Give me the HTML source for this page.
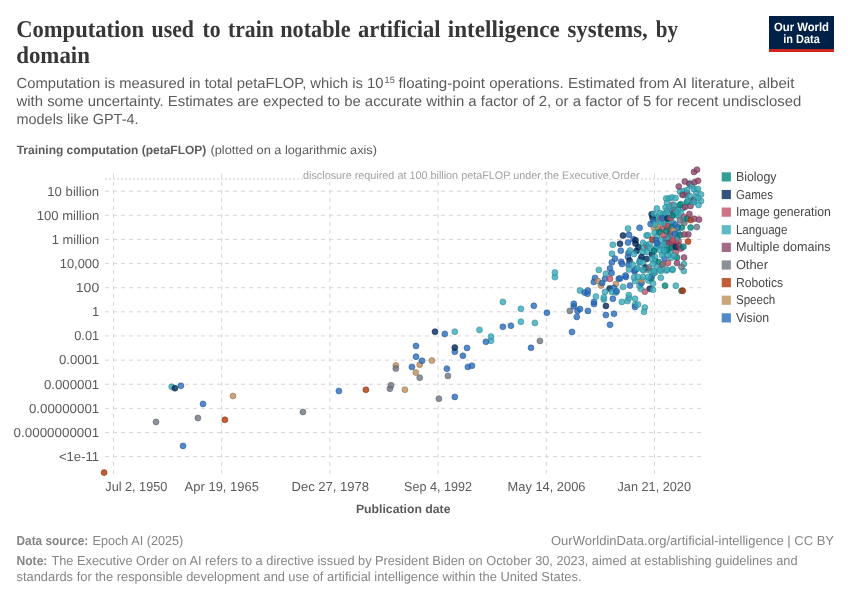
<!DOCTYPE html>
<html lang="en"><head><meta charset="utf-8"><title>Computation used to train notable artificial intelligence systems, by domain</title>
<style>html,body{margin:0;padding:0;background:#fff;}body{width:850px;height:600px;overflow:hidden;font-family:"Liberation Sans",sans-serif;}svg{display:block;will-change:transform;}text{font-family:"Liberation Sans",sans-serif;text-rendering:geometricPrecision;}.ttl{font-family:"Liberation Serif",serif;font-weight:bold;fill:#373737;}</style>
</head><body>
<svg width="850" height="600" viewBox="0 0 850 600">
<text x="16.2" y="37" font-size="24" fill="#373737" textLength="128.0" lengthAdjust="spacingAndGlyphs" class="ttl" >Computation</text>
<text x="151.5" y="37" font-size="24" fill="#373737" textLength="42.5" lengthAdjust="spacingAndGlyphs" class="ttl" >used</text>
<text x="202.6" y="37" font-size="24" fill="#373737" textLength="18.1" lengthAdjust="spacingAndGlyphs" class="ttl" >to</text>
<text x="228.0" y="37" font-size="24" fill="#373737" textLength="45.7" lengthAdjust="spacingAndGlyphs" class="ttl" >train</text>
<text x="280.2" y="37" font-size="24" fill="#373737" textLength="70.5" lengthAdjust="spacingAndGlyphs" class="ttl" >notable</text>
<text x="358.0" y="37" font-size="24" fill="#373737" textLength="82.6" lengthAdjust="spacingAndGlyphs" class="ttl" >artificial</text>
<text x="447.8" y="37" font-size="24" fill="#373737" textLength="111.9" lengthAdjust="spacingAndGlyphs" class="ttl" >intelligence</text>
<text x="567.4" y="37" font-size="24" fill="#373737" textLength="80.3" lengthAdjust="spacingAndGlyphs" class="ttl" >systems,</text>
<text x="655.7" y="37" font-size="24" fill="#373737" textLength="22.3" lengthAdjust="spacingAndGlyphs" class="ttl" >by</text>
<text x="16.2" y="62.5" font-size="24" fill="#373737" textLength="73.7" lengthAdjust="spacingAndGlyphs" class="ttl" >domain</text>
<text x="16.5" y="87.8" font-size="14.6" fill="#5b5b5b" textLength="367" lengthAdjust="spacingAndGlyphs" >Computation is measured in total petaFLOP, which is 10</text>
<text x="384.6" y="82.6" font-size="9" fill="#5b5b5b" textLength="10.2" lengthAdjust="spacingAndGlyphs" >15</text>
<text x="398.6" y="87.8" font-size="14.6" fill="#5b5b5b" textLength="395.8" lengthAdjust="spacingAndGlyphs" >floating-point operations. Estimated from AI literature, albeit</text>
<text x="16.5" y="105.5" font-size="14.6" fill="#5b5b5b" textLength="784.8" lengthAdjust="spacingAndGlyphs" >with some uncertainty. Estimates are expected to be accurate within a factor of 2, or a factor of 5 for recent undisclosed</text>
<text x="16.5" y="123.5" font-size="14.6" fill="#5b5b5b" textLength="122" lengthAdjust="spacingAndGlyphs" >models like GPT-4.</text>
<rect x="769" y="16" width="65" height="36" fill="#002147"/><rect x="769" y="49" width="65" height="3" fill="#ce261e"/>
<text x="801.5" y="30.8" font-size="12" fill="#fff" textLength="55" lengthAdjust="spacingAndGlyphs" font-weight="bold" text-anchor="middle" >Our World</text>
<text x="801.5" y="42.8" font-size="12" fill="#fff" textLength="36.5" lengthAdjust="spacingAndGlyphs" font-weight="bold" text-anchor="middle" >in Data</text>
<text x="16.7" y="154.3" font-size="12" fill="#5b5b5b" textLength="189.6" lengthAdjust="spacingAndGlyphs" font-weight="bold" >Training computation (petaFLOP)</text>
<text x="210.5" y="154.3" font-size="12" fill="#5b5b5b" textLength="166.5" lengthAdjust="spacingAndGlyphs" >(plotted on a logarithmic axis)</text>
<g stroke="#d6d6d6" stroke-width="1" stroke-dasharray="4,4" fill="none">
<line x1="113.50" y1="473.75" x2="113.50" y2="173.75"/>
<line x1="221.70" y1="473.75" x2="221.70" y2="173.75"/>
<line x1="329.90" y1="473.75" x2="329.90" y2="173.75"/>
<line x1="438.10" y1="473.75" x2="438.10" y2="173.75"/>
<line x1="546.30" y1="473.75" x2="546.30" y2="173.75"/>
<line x1="654.50" y1="473.75" x2="654.50" y2="173.75"/>
</g>
<g stroke="#d6d6d6" stroke-width="1" stroke-dasharray="4,4" fill="none">
<line x1="105" y1="191.20" x2="701" y2="191.20"/>
<line x1="105" y1="215.33" x2="701" y2="215.33"/>
<line x1="105" y1="239.46" x2="701" y2="239.46"/>
<line x1="105" y1="263.59" x2="701" y2="263.59"/>
<line x1="105" y1="287.72" x2="701" y2="287.72"/>
<line x1="105" y1="311.85" x2="701" y2="311.85"/>
<line x1="105" y1="335.98" x2="701" y2="335.98"/>
<line x1="105" y1="360.11" x2="701" y2="360.11"/>
<line x1="105" y1="384.24" x2="701" y2="384.24"/>
<line x1="105" y1="408.37" x2="701" y2="408.37"/>
<line x1="105" y1="432.50" x2="701" y2="432.50"/>
<line x1="105" y1="456.63" x2="701" y2="456.63"/>
</g>
<line x1="105" y1="179" x2="701" y2="179" stroke="#cfcfcf" stroke-width="1" stroke-dasharray="2,2"/>
<text x="639.5" y="178.9" font-size="11" fill="#a1a1a1" textLength="336.5" lengthAdjust="spacingAndGlyphs" text-anchor="end" stroke="#fff" stroke-width="2.2" paint-order="stroke" stroke-linejoin="round">disclosure required at 100 billion petaFLOP under the Executive Order</text>
<text x="99.2" y="195.50" font-size="13" fill="#5b5b5b" textLength="51.900000000000006" lengthAdjust="spacingAndGlyphs" text-anchor="end" >10 billion</text>
<text x="99.2" y="219.63" font-size="13" fill="#5b5b5b" textLength="62.400000000000006" lengthAdjust="spacingAndGlyphs" text-anchor="end" >100 million</text>
<text x="99.2" y="243.76" font-size="13" fill="#5b5b5b" textLength="47.400000000000006" lengthAdjust="spacingAndGlyphs" text-anchor="end" >1 million</text>
<text x="99.2" y="267.89" font-size="13" fill="#5b5b5b" textLength="39.400000000000006" lengthAdjust="spacingAndGlyphs" text-anchor="end" >10,000</text>
<text x="99.2" y="292.02" font-size="13" fill="#5b5b5b" textLength="23.4" lengthAdjust="spacingAndGlyphs" text-anchor="end" >100</text>
<text x="99.2" y="316.15" font-size="13" fill="#5b5b5b" text-anchor="end" >1</text>
<text x="99.2" y="340.28" font-size="13" fill="#5b5b5b" textLength="25.0" lengthAdjust="spacingAndGlyphs" text-anchor="end" >0.01</text>
<text x="99.2" y="364.41" font-size="13" fill="#5b5b5b" textLength="40.3" lengthAdjust="spacingAndGlyphs" text-anchor="end" >0.0001</text>
<text x="99.2" y="388.54" font-size="13" fill="#5b5b5b" textLength="55.3" lengthAdjust="spacingAndGlyphs" text-anchor="end" >0.000001</text>
<text x="99.2" y="412.67" font-size="13" fill="#5b5b5b" textLength="70.3" lengthAdjust="spacingAndGlyphs" text-anchor="end" >0.00000001</text>
<text x="99.2" y="436.80" font-size="13" fill="#5b5b5b" textLength="85.6" lengthAdjust="spacingAndGlyphs" text-anchor="end" >0.0000000001</text>
<text x="99.2" y="460.93" font-size="13" fill="#5b5b5b" textLength="40.3" lengthAdjust="spacingAndGlyphs" text-anchor="end" >&lt;1e-11</text>
<text x="105.3" y="491.4" font-size="13" fill="#5b5b5b" textLength="62.0" lengthAdjust="spacingAndGlyphs" >Jul 2, 1950</text>
<text x="184.6" y="491.4" font-size="13" fill="#5b5b5b" textLength="74.4" lengthAdjust="spacingAndGlyphs" >Apr 19, 1965</text>
<text x="291.5" y="491.4" font-size="13" fill="#5b5b5b" textLength="77.5" lengthAdjust="spacingAndGlyphs" >Dec 27, 1978</text>
<text x="404.0" y="491.4" font-size="13" fill="#5b5b5b" textLength="68.0" lengthAdjust="spacingAndGlyphs" >Sep 4, 1992</text>
<text x="507.5" y="491.4" font-size="13" fill="#5b5b5b" textLength="78.0" lengthAdjust="spacingAndGlyphs" >May 14, 2006</text>
<text x="617.5" y="491.4" font-size="13" fill="#5b5b5b" textLength="73.5" lengthAdjust="spacingAndGlyphs" >Jan 21, 2020</text>
<text x="403.2" y="513" font-size="12" fill="#5b5b5b" textLength="94.6" lengthAdjust="spacingAndGlyphs" font-weight="bold" text-anchor="middle" >Publication date</text>
<g fill-opacity="0.8" stroke-width="0.5">
<circle cx="104.1" cy="472.6" r="3" fill="#B13507" stroke="#842705"/>
<circle cx="233.0" cy="396.0" r="3" fill="#BC8E5A" stroke="#8d6a43"/>
<circle cx="171.7" cy="386.8" r="3" fill="#38AABA" stroke="#2a7f8b"/>
<circle cx="174.9" cy="388.2" r="3" fill="#00295B" stroke="#001e44"/>
<circle cx="180.9" cy="385.8" r="3" fill="#286BBB" stroke="#1e508c"/>
<circle cx="203.0" cy="403.9" r="3" fill="#286BBB" stroke="#1e508c"/>
<circle cx="197.9" cy="418.0" r="3" fill="#6E7581" stroke="#525760"/>
<circle cx="156.0" cy="421.9" r="3" fill="#6E7581" stroke="#525760"/>
<circle cx="224.9" cy="419.8" r="3" fill="#B13507" stroke="#842705"/>
<circle cx="183.0" cy="445.9" r="3" fill="#286BBB" stroke="#1e508c"/>
<circle cx="302.9" cy="412.0" r="3" fill="#6E7581" stroke="#525760"/>
<circle cx="338.9" cy="391.0" r="3" fill="#286BBB" stroke="#1e508c"/>
<circle cx="365.9" cy="389.8" r="3" fill="#B13507" stroke="#842705"/>
<circle cx="389.9" cy="388.7" r="3" fill="#6E7581" stroke="#525760"/>
<circle cx="391.0" cy="385.3" r="3" fill="#6E7581" stroke="#525760"/>
<circle cx="395.8" cy="365.4" r="3" fill="#BC8E5A" stroke="#8d6a43"/>
<circle cx="395.8" cy="368.6" r="3" fill="#6E7581" stroke="#525760"/>
<circle cx="435.0" cy="331.7" r="3" fill="#00295B" stroke="#001e44"/>
<circle cx="444.8" cy="333.9" r="3" fill="#286BBB" stroke="#1e508c"/>
<circle cx="454.8" cy="331.7" r="3" fill="#38AABA" stroke="#2a7f8b"/>
<circle cx="479.5" cy="329.9" r="3" fill="#38AABA" stroke="#2a7f8b"/>
<circle cx="491.0" cy="340.7" r="3" fill="#38AABA" stroke="#2a7f8b"/>
<circle cx="491.0" cy="336.6" r="3" fill="#38AABA" stroke="#2a7f8b"/>
<circle cx="485.9" cy="341.8" r="3" fill="#286BBB" stroke="#1e508c"/>
<circle cx="416.0" cy="345.9" r="3" fill="#286BBB" stroke="#1e508c"/>
<circle cx="454.8" cy="351.8" r="3" fill="#286BBB" stroke="#1e508c"/>
<circle cx="454.8" cy="347.6" r="3" fill="#00295B" stroke="#001e44"/>
<circle cx="467.0" cy="347.9" r="3" fill="#286BBB" stroke="#1e508c"/>
<circle cx="462.9" cy="355.8" r="3" fill="#286BBB" stroke="#1e508c"/>
<circle cx="416.0" cy="356.7" r="3" fill="#286BBB" stroke="#1e508c"/>
<circle cx="419.7" cy="364.7" r="3" fill="#BC8E5A" stroke="#8d6a43"/>
<circle cx="422.0" cy="360.8" r="3" fill="#286BBB" stroke="#1e508c"/>
<circle cx="431.9" cy="360.6" r="3" fill="#BC8E5A" stroke="#8d6a43"/>
<circle cx="411.9" cy="366.9" r="3" fill="#286BBB" stroke="#1e508c"/>
<circle cx="446.9" cy="368.7" r="3" fill="#286BBB" stroke="#1e508c"/>
<circle cx="467.9" cy="366.9" r="3" fill="#286BBB" stroke="#1e508c"/>
<circle cx="471.9" cy="365.7" r="3" fill="#286BBB" stroke="#1e508c"/>
<circle cx="415.8" cy="372.6" r="3" fill="#BC8E5A" stroke="#8d6a43"/>
<circle cx="419.7" cy="377.7" r="3" fill="#6E7581" stroke="#525760"/>
<circle cx="447.9" cy="375.9" r="3" fill="#6E7581" stroke="#525760"/>
<circle cx="404.9" cy="389.7" r="3" fill="#BC8E5A" stroke="#8d6a43"/>
<circle cx="438.9" cy="398.7" r="3" fill="#6E7581" stroke="#525760"/>
<circle cx="454.8" cy="396.9" r="3" fill="#286BBB" stroke="#1e508c"/>
<circle cx="502.9" cy="301.9" r="3" fill="#38AABA" stroke="#2a7f8b"/>
<circle cx="520.9" cy="308.8" r="3" fill="#38AABA" stroke="#2a7f8b"/>
<circle cx="533.8" cy="305.8" r="3" fill="#286BBB" stroke="#1e508c"/>
<circle cx="546.9" cy="312.8" r="3" fill="#286BBB" stroke="#1e508c"/>
<circle cx="520.9" cy="321.7" r="3" fill="#38AABA" stroke="#2a7f8b"/>
<circle cx="534.9" cy="322.9" r="3" fill="#38AABA" stroke="#2a7f8b"/>
<circle cx="502.9" cy="326.8" r="3" fill="#286BBB" stroke="#1e508c"/>
<circle cx="510.9" cy="325.7" r="3" fill="#286BBB" stroke="#1e508c"/>
<circle cx="539.9" cy="340.9" r="3" fill="#6E7581" stroke="#525760"/>
<circle cx="531.0" cy="347.8" r="3" fill="#286BBB" stroke="#1e508c"/>
<circle cx="572.0" cy="331.9" r="3" fill="#286BBB" stroke="#1e508c"/>
<circle cx="554.9" cy="277.1" r="3" fill="#38AABA" stroke="#2a7f8b"/>
<circle cx="554.9" cy="272.5" r="3" fill="#38AABA" stroke="#2a7f8b"/>
<circle cx="569.8" cy="310.9" r="3" fill="#6E7581" stroke="#525760"/>
<circle cx="573.8" cy="306.3" r="3" fill="#286BBB" stroke="#1e508c"/>
<circle cx="573.8" cy="303.8" r="3" fill="#286BBB" stroke="#1e508c"/>
<circle cx="577.5" cy="310.9" r="3" fill="#286BBB" stroke="#1e508c"/>
<circle cx="580.0" cy="309.0" r="3" fill="#286BBB" stroke="#1e508c"/>
<circle cx="576.8" cy="316.9" r="3" fill="#286BBB" stroke="#1e508c"/>
<circle cx="587.9" cy="310.9" r="3" fill="#286BBB" stroke="#1e508c"/>
<circle cx="580.0" cy="290.6" r="3" fill="#38AABA" stroke="#2a7f8b"/>
<circle cx="584.6" cy="292.5" r="3" fill="#286BBB" stroke="#1e508c"/>
<circle cx="587.5" cy="293.8" r="3" fill="#286BBB" stroke="#1e508c"/>
<circle cx="587.9" cy="290.6" r="3" fill="#286BBB" stroke="#1e508c"/>
<circle cx="594.0" cy="304.1" r="3" fill="#286BBB" stroke="#1e508c"/>
<circle cx="594.0" cy="301.9" r="3" fill="#286BBB" stroke="#1e508c"/>
<circle cx="595.9" cy="296.6" r="3" fill="#38AABA" stroke="#2a7f8b"/>
<circle cx="598.8" cy="269.9" r="3" fill="#38AABA" stroke="#2a7f8b"/>
<circle cx="595.0" cy="277.9" r="3" fill="#286BBB" stroke="#1e508c"/>
<circle cx="593.8" cy="281.9" r="3" fill="#286BBB" stroke="#1e508c"/>
<circle cx="597.8" cy="280.9" r="3" fill="#BC8E5A" stroke="#8d6a43"/>
<circle cx="600.9" cy="285.6" r="3" fill="#BC8E5A" stroke="#8d6a43"/>
<circle cx="602.1" cy="283.1" r="3" fill="#286BBB" stroke="#1e508c"/>
<circle cx="605.0" cy="278.8" r="3" fill="#286BBB" stroke="#1e508c"/>
<circle cx="605.9" cy="273.8" r="3" fill="#38AABA" stroke="#2a7f8b"/>
<circle cx="610.0" cy="268.4" r="3" fill="#286BBB" stroke="#1e508c"/>
<circle cx="611.6" cy="272.9" r="3" fill="#286BBB" stroke="#1e508c"/>
<circle cx="610.0" cy="278.8" r="3" fill="#C15065" stroke="#903c4b"/>
<circle cx="618.8" cy="278.8" r="3" fill="#286BBB" stroke="#1e508c"/>
<circle cx="615.9" cy="284.0" r="3" fill="#BC8E5A" stroke="#8d6a43"/>
<circle cx="609.6" cy="288.5" r="3" fill="#00295B" stroke="#001e44"/>
<circle cx="613.8" cy="287.8" r="3" fill="#286BBB" stroke="#1e508c"/>
<circle cx="611.9" cy="291.9" r="3" fill="#38AABA" stroke="#2a7f8b"/>
<circle cx="615.9" cy="292.5" r="3" fill="#38AABA" stroke="#2a7f8b"/>
<circle cx="616.6" cy="291.3" r="3" fill="#286BBB" stroke="#1e508c"/>
<circle cx="605.0" cy="291.9" r="3" fill="#38AABA" stroke="#2a7f8b"/>
<circle cx="603.8" cy="299.4" r="3" fill="#38AABA" stroke="#2a7f8b"/>
<circle cx="603.8" cy="297.5" r="3" fill="#38AABA" stroke="#2a7f8b"/>
<circle cx="605.9" cy="305.9" r="3" fill="#00295B" stroke="#001e44"/>
<circle cx="605.9" cy="315.0" r="3" fill="#286BBB" stroke="#1e508c"/>
<circle cx="614.0" cy="313.8" r="3" fill="#286BBB" stroke="#1e508c"/>
<circle cx="610.0" cy="324.8" r="3" fill="#286BBB" stroke="#1e508c"/>
<circle cx="612.9" cy="298.8" r="3" fill="#286BBB" stroke="#1e508c"/>
<circle cx="623.1" cy="286.9" r="3" fill="#38AABA" stroke="#2a7f8b"/>
<circle cx="630.0" cy="285.6" r="3" fill="#286BBB" stroke="#1e508c"/>
<circle cx="625.9" cy="276.9" r="3" fill="#286BBB" stroke="#1e508c"/>
<circle cx="621.9" cy="301.9" r="3" fill="#38AABA" stroke="#2a7f8b"/>
<circle cx="627.5" cy="301.0" r="3" fill="#38AABA" stroke="#2a7f8b"/>
<circle cx="628.8" cy="298.1" r="3" fill="#38AABA" stroke="#2a7f8b"/>
<circle cx="628.8" cy="295.0" r="3" fill="#38AABA" stroke="#2a7f8b"/>
<circle cx="635.0" cy="298.8" r="3" fill="#38AABA" stroke="#2a7f8b"/>
<circle cx="628.0" cy="228.6" r="3" fill="#38AABA" stroke="#2a7f8b"/>
<circle cx="639.6" cy="227.8" r="3" fill="#286BBB" stroke="#1e508c"/>
<circle cx="623.0" cy="235.6" r="3" fill="#00295B" stroke="#001e44"/>
<circle cx="629.0" cy="234.8" r="3" fill="#286BBB" stroke="#1e508c"/>
<circle cx="633.5" cy="239.3" r="3" fill="#286BBB" stroke="#1e508c"/>
<circle cx="635.5" cy="243.5" r="3" fill="#00295B" stroke="#001e44"/>
<circle cx="635.5" cy="240.3" r="3" fill="#00295B" stroke="#001e44"/>
<circle cx="638.5" cy="247.2" r="3" fill="#00295B" stroke="#001e44"/>
<circle cx="636.5" cy="251.0" r="3" fill="#00295B" stroke="#001e44"/>
<circle cx="620.0" cy="243.7" r="3" fill="#00295B" stroke="#001e44"/>
<circle cx="628.0" cy="242.6" r="3" fill="#286BBB" stroke="#1e508c"/>
<circle cx="612.8" cy="244.8" r="3" fill="#38AABA" stroke="#2a7f8b"/>
<circle cx="620.8" cy="250.7" r="3" fill="#286BBB" stroke="#1e508c"/>
<circle cx="628.5" cy="253.0" r="3" fill="#286BBB" stroke="#1e508c"/>
<circle cx="630.0" cy="250.5" r="3" fill="#38AABA" stroke="#2a7f8b"/>
<circle cx="634.0" cy="254.0" r="3" fill="#38AABA" stroke="#2a7f8b"/>
<circle cx="628.0" cy="257.0" r="3" fill="#286BBB" stroke="#1e508c"/>
<circle cx="629.6" cy="260.5" r="3" fill="#00295B" stroke="#001e44"/>
<circle cx="612.0" cy="253.7" r="3" fill="#38AABA" stroke="#2a7f8b"/>
<circle cx="615.0" cy="258.7" r="3" fill="#286BBB" stroke="#1e508c"/>
<circle cx="611.8" cy="262.5" r="3" fill="#286BBB" stroke="#1e508c"/>
<circle cx="621.2" cy="261.8" r="3" fill="#286BBB" stroke="#1e508c"/>
<circle cx="622.0" cy="264.0" r="3" fill="#286BBB" stroke="#1e508c"/>
<circle cx="628.5" cy="264.7" r="3" fill="#286BBB" stroke="#1e508c"/>
<circle cx="632.6" cy="264.6" r="3" fill="#38AABA" stroke="#2a7f8b"/>
<circle cx="629.0" cy="269.5" r="3" fill="#38AABA" stroke="#2a7f8b"/>
<circle cx="637.0" cy="269.0" r="3" fill="#38AABA" stroke="#2a7f8b"/>
<circle cx="634.5" cy="271.5" r="3" fill="#286BBB" stroke="#1e508c"/>
<circle cx="639.5" cy="262.0" r="3" fill="#286BBB" stroke="#1e508c"/>
<circle cx="640.0" cy="260.0" r="3" fill="#38AABA" stroke="#2a7f8b"/>
<circle cx="625.5" cy="275.5" r="3" fill="#286BBB" stroke="#1e508c"/>
<circle cx="635.0" cy="270.0" r="3" fill="#286BBB" stroke="#1e508c"/>
<circle cx="637.5" cy="268.1" r="3" fill="#38AABA" stroke="#2a7f8b"/>
<circle cx="681.5" cy="290.8" r="3" fill="#00847E" stroke="#00635e"/>
<circle cx="682.8" cy="290.8" r="3" fill="#B13507" stroke="#842705"/>
<circle cx="675.8" cy="285.7" r="3" fill="#38AABA" stroke="#2a7f8b"/>
<circle cx="665.0" cy="285.7" r="3" fill="#00847E" stroke="#00635e"/>
<circle cx="660.8" cy="277.7" r="3" fill="#38AABA" stroke="#2a7f8b"/>
<circle cx="653.0" cy="283.5" r="3" fill="#38AABA" stroke="#2a7f8b"/>
<circle cx="649.7" cy="288.8" r="3" fill="#00295B" stroke="#001e44"/>
<circle cx="653.0" cy="289.8" r="3" fill="#38AABA" stroke="#2a7f8b"/>
<circle cx="644.8" cy="291.7" r="3" fill="#C15065" stroke="#903c4b"/>
<circle cx="640.7" cy="288.8" r="3" fill="#38AABA" stroke="#2a7f8b"/>
<circle cx="639.5" cy="285.5" r="3" fill="#38AABA" stroke="#2a7f8b"/>
<circle cx="641.5" cy="283.0" r="3" fill="#286BBB" stroke="#1e508c"/>
<circle cx="641.5" cy="280.0" r="3" fill="#BC8E5A" stroke="#8d6a43"/>
<circle cx="643.0" cy="277.0" r="3" fill="#38AABA" stroke="#2a7f8b"/>
<circle cx="635.0" cy="281.0" r="3" fill="#38AABA" stroke="#2a7f8b"/>
<circle cx="634.0" cy="277.5" r="3" fill="#38AABA" stroke="#2a7f8b"/>
<circle cx="638.0" cy="277.0" r="3" fill="#38AABA" stroke="#2a7f8b"/>
<circle cx="620.0" cy="278.5" r="3" fill="#286BBB" stroke="#1e508c"/>
<circle cx="648.5" cy="280.5" r="3" fill="#38AABA" stroke="#2a7f8b"/>
<circle cx="651.0" cy="278.5" r="3" fill="#00847E" stroke="#00635e"/>
<circle cx="651.8" cy="276.2" r="3" fill="#286BBB" stroke="#1e508c"/>
<circle cx="654.0" cy="273.0" r="3" fill="#38AABA" stroke="#2a7f8b"/>
<circle cx="648.0" cy="277.0" r="3" fill="#38AABA" stroke="#2a7f8b"/>
<circle cx="635.0" cy="304.7" r="3" fill="#38AABA" stroke="#2a7f8b"/>
<circle cx="635.0" cy="307.0" r="3" fill="#286BBB" stroke="#1e508c"/>
<circle cx="638.0" cy="304.5" r="3" fill="#38AABA" stroke="#2a7f8b"/>
<circle cx="644.8" cy="307.5" r="3" fill="#38AABA" stroke="#2a7f8b"/>
<circle cx="644.0" cy="311.8" r="3" fill="#38AABA" stroke="#2a7f8b"/>
<circle cx="643.5" cy="270.5" r="3" fill="#38AABA" stroke="#2a7f8b"/>
<circle cx="647.5" cy="269.5" r="3" fill="#6E7581" stroke="#525760"/>
<circle cx="651.0" cy="271.0" r="3" fill="#38AABA" stroke="#2a7f8b"/>
<circle cx="655.0" cy="272.5" r="3" fill="#38AABA" stroke="#2a7f8b"/>
<circle cx="661.0" cy="271.0" r="3" fill="#38AABA" stroke="#2a7f8b"/>
<circle cx="666.5" cy="270.5" r="3" fill="#38AABA" stroke="#2a7f8b"/>
<circle cx="672.5" cy="270.0" r="3" fill="#38AABA" stroke="#2a7f8b"/>
<circle cx="683.8" cy="271.0" r="3" fill="#38AABA" stroke="#2a7f8b"/>
<circle cx="646.5" cy="235.5" r="3" fill="#38AABA" stroke="#2a7f8b"/>
<circle cx="643.0" cy="243.0" r="3" fill="#38AABA" stroke="#2a7f8b"/>
<circle cx="646.0" cy="245.0" r="3" fill="#38AABA" stroke="#2a7f8b"/>
<circle cx="644.0" cy="248.0" r="3" fill="#38AABA" stroke="#2a7f8b"/>
<circle cx="647.5" cy="247.0" r="3" fill="#6E7581" stroke="#525760"/>
<circle cx="642.5" cy="252.0" r="3" fill="#38AABA" stroke="#2a7f8b"/>
<circle cx="647.0" cy="252.0" r="3" fill="#38AABA" stroke="#2a7f8b"/>
<circle cx="641.5" cy="257.0" r="3" fill="#00295B" stroke="#001e44"/>
<circle cx="646.5" cy="259.0" r="3" fill="#00295B" stroke="#001e44"/>
<circle cx="640.0" cy="262.0" r="3" fill="#38AABA" stroke="#2a7f8b"/>
<circle cx="643.0" cy="263.0" r="3" fill="#38AABA" stroke="#2a7f8b"/>
<circle cx="645.5" cy="267.5" r="3" fill="#00295B" stroke="#001e44"/>
<circle cx="649.0" cy="267.5" r="3" fill="#6E7581" stroke="#525760"/>
<circle cx="643.0" cy="269.5" r="3" fill="#38AABA" stroke="#2a7f8b"/>
<circle cx="652.0" cy="254.5" r="3" fill="#00295B" stroke="#001e44"/>
<circle cx="655.0" cy="257.0" r="3" fill="#38AABA" stroke="#2a7f8b"/>
<circle cx="652.0" cy="259.0" r="3" fill="#38AABA" stroke="#2a7f8b"/>
<circle cx="655.0" cy="261.0" r="3" fill="#38AABA" stroke="#2a7f8b"/>
<circle cx="658.5" cy="262.0" r="3" fill="#00847E" stroke="#00635e"/>
<circle cx="653.0" cy="264.0" r="3" fill="#38AABA" stroke="#2a7f8b"/>
<circle cx="657.0" cy="267.0" r="3" fill="#38AABA" stroke="#2a7f8b"/>
<circle cx="654.0" cy="271.0" r="3" fill="#38AABA" stroke="#2a7f8b"/>
<circle cx="660.0" cy="269.5" r="3" fill="#38AABA" stroke="#2a7f8b"/>
<circle cx="662.0" cy="265.0" r="3" fill="#6E7581" stroke="#525760"/>
<circle cx="663.0" cy="264.0" r="3" fill="#6E7581" stroke="#525760"/>
<circle cx="667.0" cy="269.5" r="3" fill="#38AABA" stroke="#2a7f8b"/>
<circle cx="672.5" cy="269.0" r="3" fill="#38AABA" stroke="#2a7f8b"/>
<circle cx="664.5" cy="258.5" r="3" fill="#286BBB" stroke="#1e508c"/>
<circle cx="671.0" cy="258.0" r="3" fill="#38AABA" stroke="#2a7f8b"/>
<circle cx="668.0" cy="263.0" r="3" fill="#C15065" stroke="#903c4b"/>
<circle cx="677.0" cy="257.5" r="3" fill="#00847E" stroke="#00635e"/>
<circle cx="677.0" cy="263.0" r="3" fill="#8C4569" stroke="#69334e"/>
<circle cx="684.0" cy="257.5" r="3" fill="#8C4569" stroke="#69334e"/>
<circle cx="684.0" cy="264.0" r="3" fill="#38AABA" stroke="#2a7f8b"/>
<circle cx="681.5" cy="267.0" r="3" fill="#6E7581" stroke="#525760"/>
<circle cx="664.0" cy="252.0" r="3" fill="#38AABA" stroke="#2a7f8b"/>
<circle cx="670.0" cy="252.5" r="3" fill="#38AABA" stroke="#2a7f8b"/>
<circle cx="676.0" cy="252.0" r="3" fill="#C15065" stroke="#903c4b"/>
<circle cx="662.0" cy="255.0" r="3" fill="#38AABA" stroke="#2a7f8b"/>
<circle cx="668.0" cy="255.0" r="3" fill="#38AABA" stroke="#2a7f8b"/>
<circle cx="674.0" cy="255.5" r="3" fill="#38AABA" stroke="#2a7f8b"/>
<circle cx="656.9" cy="208.5" r="3" fill="#38AABA" stroke="#2a7f8b"/>
<circle cx="674.8" cy="209.3" r="3" fill="#8C4569" stroke="#69334e"/>
<circle cx="672.5" cy="204.8" r="3" fill="#C15065" stroke="#903c4b"/>
<circle cx="669.5" cy="208.5" r="3" fill="#C15065" stroke="#903c4b"/>
<circle cx="672.0" cy="211.0" r="3" fill="#38AABA" stroke="#2a7f8b"/>
<circle cx="677.0" cy="211.5" r="3" fill="#38AABA" stroke="#2a7f8b"/>
<circle cx="666.2" cy="198.5" r="3" fill="#38AABA" stroke="#2a7f8b"/>
<circle cx="669.0" cy="198.5" r="3" fill="#38AABA" stroke="#2a7f8b"/>
<circle cx="672.0" cy="197.5" r="3" fill="#38AABA" stroke="#2a7f8b"/>
<circle cx="675.5" cy="198.0" r="3" fill="#38AABA" stroke="#2a7f8b"/>
<circle cx="667.0" cy="203.0" r="3" fill="#38AABA" stroke="#2a7f8b"/>
<circle cx="665.5" cy="207.5" r="3" fill="#38AABA" stroke="#2a7f8b"/>
<circle cx="669.0" cy="207.0" r="3" fill="#38AABA" stroke="#2a7f8b"/>
<circle cx="667.0" cy="211.0" r="3" fill="#38AABA" stroke="#2a7f8b"/>
<circle cx="674.0" cy="205.0" r="3" fill="#38AABA" stroke="#2a7f8b"/>
<circle cx="678.0" cy="210.0" r="3" fill="#38AABA" stroke="#2a7f8b"/>
<circle cx="681.0" cy="204.0" r="3" fill="#38AABA" stroke="#2a7f8b"/>
<circle cx="683.0" cy="208.0" r="3" fill="#38AABA" stroke="#2a7f8b"/>
<circle cx="680.0" cy="205.0" r="3" fill="#00847E" stroke="#00635e"/>
<circle cx="685.0" cy="207.0" r="3" fill="#8C4569" stroke="#69334e"/>
<circle cx="690.5" cy="206.0" r="3" fill="#8C4569" stroke="#69334e"/>
<circle cx="687.0" cy="202.0" r="3" fill="#00847E" stroke="#00635e"/>
<circle cx="680.0" cy="191.5" r="3" fill="#38AABA" stroke="#2a7f8b"/>
<circle cx="682.0" cy="194.5" r="3" fill="#38AABA" stroke="#2a7f8b"/>
<circle cx="684.0" cy="191.0" r="3" fill="#38AABA" stroke="#2a7f8b"/>
<circle cx="686.0" cy="195.0" r="3" fill="#38AABA" stroke="#2a7f8b"/>
<circle cx="683.0" cy="195.0" r="3" fill="#8C4569" stroke="#69334e"/>
<circle cx="688.0" cy="200.0" r="3" fill="#38AABA" stroke="#2a7f8b"/>
<circle cx="692.0" cy="200.0" r="3" fill="#38AABA" stroke="#2a7f8b"/>
<circle cx="687.0" cy="193.0" r="3" fill="#8C4569" stroke="#69334e"/>
<circle cx="687.0" cy="190.0" r="3" fill="#38AABA" stroke="#2a7f8b"/>
<circle cx="690.0" cy="196.0" r="3" fill="#38AABA" stroke="#2a7f8b"/>
<circle cx="693.0" cy="202.0" r="3" fill="#38AABA" stroke="#2a7f8b"/>
<circle cx="694.0" cy="200.0" r="3" fill="#8C4569" stroke="#69334e"/>
<circle cx="696.0" cy="197.0" r="3" fill="#38AABA" stroke="#2a7f8b"/>
<circle cx="689.5" cy="183.5" r="3" fill="#38AABA" stroke="#2a7f8b"/>
<circle cx="689.5" cy="184.0" r="3" fill="#8C4569" stroke="#69334e"/>
<circle cx="692.0" cy="186.0" r="3" fill="#38AABA" stroke="#2a7f8b"/>
<circle cx="696.0" cy="192.0" r="3" fill="#38AABA" stroke="#2a7f8b"/>
<circle cx="694.0" cy="189.0" r="3" fill="#38AABA" stroke="#2a7f8b"/>
<circle cx="698.0" cy="189.0" r="3" fill="#38AABA" stroke="#2a7f8b"/>
<circle cx="701.0" cy="194.5" r="3" fill="#38AABA" stroke="#2a7f8b"/>
<circle cx="701.0" cy="201.0" r="3" fill="#38AABA" stroke="#2a7f8b"/>
<circle cx="698.5" cy="205.0" r="3" fill="#38AABA" stroke="#2a7f8b"/>
<circle cx="694.0" cy="202.0" r="3" fill="#38AABA" stroke="#2a7f8b"/>
<circle cx="698.0" cy="198.0" r="3" fill="#38AABA" stroke="#2a7f8b"/>
<circle cx="678.8" cy="186.5" r="3" fill="#8C4569" stroke="#69334e"/>
<circle cx="684.8" cy="181.5" r="3" fill="#8C4569" stroke="#69334e"/>
<circle cx="694.5" cy="182.2" r="3" fill="#8C4569" stroke="#69334e"/>
<circle cx="698.0" cy="180.8" r="3" fill="#8C4569" stroke="#69334e"/>
<circle cx="694.0" cy="172.0" r="3" fill="#8C4569" stroke="#69334e"/>
<circle cx="697.0" cy="169.7" r="3" fill="#8C4569" stroke="#69334e"/>
<circle cx="659.0" cy="216.5" r="3" fill="#38AABA" stroke="#2a7f8b"/>
<circle cx="661.7" cy="215.3" r="3" fill="#38AABA" stroke="#2a7f8b"/>
<circle cx="664.3" cy="215.9" r="3" fill="#38AABA" stroke="#2a7f8b"/>
<circle cx="658.4" cy="220.5" r="3" fill="#38AABA" stroke="#2a7f8b"/>
<circle cx="660.7" cy="219.2" r="3" fill="#C15065" stroke="#903c4b"/>
<circle cx="666.0" cy="213.5" r="3" fill="#38AABA" stroke="#2a7f8b"/>
<circle cx="663.0" cy="214.0" r="3" fill="#38AABA" stroke="#2a7f8b"/>
<circle cx="660.0" cy="213.0" r="3" fill="#38AABA" stroke="#2a7f8b"/>
<circle cx="661.0" cy="222.4" r="3" fill="#38AABA" stroke="#2a7f8b"/>
<circle cx="664.3" cy="223.4" r="3" fill="#38AABA" stroke="#2a7f8b"/>
<circle cx="665.5" cy="225.3" r="3" fill="#38AABA" stroke="#2a7f8b"/>
<circle cx="667.5" cy="227.6" r="3" fill="#C15065" stroke="#903c4b"/>
<circle cx="668.8" cy="228.9" r="3" fill="#C15065" stroke="#903c4b"/>
<circle cx="658.7" cy="229.6" r="3" fill="#00847E" stroke="#00635e"/>
<circle cx="673.7" cy="213.0" r="3" fill="#8C4569" stroke="#69334e"/>
<circle cx="676.0" cy="215.3" r="3" fill="#38AABA" stroke="#2a7f8b"/>
<circle cx="678.6" cy="215.3" r="3" fill="#38AABA" stroke="#2a7f8b"/>
<circle cx="675.9" cy="212.4" r="3" fill="#38AABA" stroke="#2a7f8b"/>
<circle cx="681.0" cy="213.5" r="3" fill="#38AABA" stroke="#2a7f8b"/>
<circle cx="670.8" cy="223.0" r="3" fill="#38AABA" stroke="#2a7f8b"/>
<circle cx="672.7" cy="222.4" r="3" fill="#38AABA" stroke="#2a7f8b"/>
<circle cx="668.5" cy="222.5" r="3" fill="#38AABA" stroke="#2a7f8b"/>
<circle cx="668.0" cy="226.0" r="3" fill="#C15065" stroke="#903c4b"/>
<circle cx="677.9" cy="232.8" r="3" fill="#38AABA" stroke="#2a7f8b"/>
<circle cx="670.4" cy="234.1" r="3" fill="#38AABA" stroke="#2a7f8b"/>
<circle cx="670.0" cy="234.0" r="3" fill="#8C4569" stroke="#69334e"/>
<circle cx="669.5" cy="237.4" r="3" fill="#38AABA" stroke="#2a7f8b"/>
<circle cx="670.8" cy="241.3" r="3" fill="#38AABA" stroke="#2a7f8b"/>
<circle cx="672.0" cy="243.2" r="3" fill="#38AABA" stroke="#2a7f8b"/>
<circle cx="677.3" cy="237.4" r="3" fill="#8C4569" stroke="#69334e"/>
<circle cx="665.2" cy="239.3" r="3" fill="#8C4569" stroke="#69334e"/>
<circle cx="667.5" cy="238.0" r="3" fill="#8C4569" stroke="#69334e"/>
<circle cx="666.9" cy="242.6" r="3" fill="#286BBB" stroke="#1e508c"/>
<circle cx="674.0" cy="241.3" r="3" fill="#C15065" stroke="#903c4b"/>
<circle cx="678.6" cy="241.3" r="3" fill="#C15065" stroke="#903c4b"/>
<circle cx="676.0" cy="242.0" r="3" fill="#C15065" stroke="#903c4b"/>
<circle cx="667.0" cy="238.0" r="3" fill="#38AABA" stroke="#2a7f8b"/>
<circle cx="661.0" cy="239.5" r="3" fill="#38AABA" stroke="#2a7f8b"/>
<circle cx="665.0" cy="244.0" r="3" fill="#38AABA" stroke="#2a7f8b"/>
<circle cx="669.0" cy="243.0" r="3" fill="#8C4569" stroke="#69334e"/>
<circle cx="671.0" cy="246.5" r="3" fill="#C15065" stroke="#903c4b"/>
<circle cx="675.0" cy="246.0" r="3" fill="#8C4569" stroke="#69334e"/>
<circle cx="677.0" cy="238.0" r="3" fill="#38AABA" stroke="#2a7f8b"/>
<circle cx="673.0" cy="240.0" r="3" fill="#C15065" stroke="#903c4b"/>
<circle cx="660.4" cy="245.8" r="3" fill="#38AABA" stroke="#2a7f8b"/>
<circle cx="658.0" cy="245.0" r="3" fill="#38AABA" stroke="#2a7f8b"/>
<circle cx="661.5" cy="246.0" r="3" fill="#38AABA" stroke="#2a7f8b"/>
<circle cx="654.2" cy="249.7" r="3" fill="#38AABA" stroke="#2a7f8b"/>
<circle cx="649.6" cy="243.9" r="3" fill="#38AABA" stroke="#2a7f8b"/>
<circle cx="648.0" cy="235.4" r="3" fill="#38AABA" stroke="#2a7f8b"/>
<circle cx="650.0" cy="248.0" r="3" fill="#38AABA" stroke="#2a7f8b"/>
<circle cx="656.5" cy="247.0" r="3" fill="#38AABA" stroke="#2a7f8b"/>
<circle cx="667.5" cy="248.4" r="3" fill="#38AABA" stroke="#2a7f8b"/>
<circle cx="671.4" cy="247.8" r="3" fill="#00847E" stroke="#00635e"/>
<circle cx="676.0" cy="247.1" r="3" fill="#00295B" stroke="#001e44"/>
<circle cx="679.2" cy="245.8" r="3" fill="#8C4569" stroke="#69334e"/>
<circle cx="681.0" cy="248.5" r="3" fill="#8C4569" stroke="#69334e"/>
<circle cx="667.0" cy="250.0" r="3" fill="#00847E" stroke="#00635e"/>
<circle cx="660.0" cy="250.0" r="3" fill="#38AABA" stroke="#2a7f8b"/>
<circle cx="664.0" cy="250.5" r="3" fill="#38AABA" stroke="#2a7f8b"/>
<circle cx="654.0" cy="250.9" r="3" fill="#00847E" stroke="#00635e"/>
<circle cx="657.0" cy="236.0" r="3" fill="#38AABA" stroke="#2a7f8b"/>
<circle cx="655.0" cy="218.0" r="3" fill="#38AABA" stroke="#2a7f8b"/>
<circle cx="651.7" cy="214.2" r="3" fill="#00295B" stroke="#001e44"/>
<circle cx="652.5" cy="217.6" r="3" fill="#00295B" stroke="#001e44"/>
<circle cx="653.7" cy="213.8" r="3" fill="#38AABA" stroke="#2a7f8b"/>
<circle cx="653.2" cy="221.1" r="3" fill="#286BBB" stroke="#1e508c"/>
<circle cx="650.6" cy="224.0" r="3" fill="#286BBB" stroke="#1e508c"/>
<circle cx="653.9" cy="227.6" r="3" fill="#BC8E5A" stroke="#8d6a43"/>
<circle cx="657.8" cy="227.0" r="3" fill="#BC8E5A" stroke="#8d6a43"/>
<circle cx="654.8" cy="224.7" r="3" fill="#38AABA" stroke="#2a7f8b"/>
<circle cx="654.5" cy="232.8" r="3" fill="#38AABA" stroke="#2a7f8b"/>
<circle cx="652.3" cy="239.6" r="3" fill="#B13507" stroke="#842705"/>
<circle cx="655.8" cy="240.3" r="3" fill="#286BBB" stroke="#1e508c"/>
<circle cx="656.8" cy="243.2" r="3" fill="#286BBB" stroke="#1e508c"/>
<circle cx="662.6" cy="218.2" r="3" fill="#286BBB" stroke="#1e508c"/>
<circle cx="667.5" cy="218.5" r="3" fill="#00295B" stroke="#001e44"/>
<circle cx="670.8" cy="218.0" r="3" fill="#C15065" stroke="#903c4b"/>
<circle cx="672.4" cy="215.6" r="3" fill="#00847E" stroke="#00635e"/>
<circle cx="662.6" cy="228.9" r="3" fill="#C15065" stroke="#903c4b"/>
<circle cx="659.7" cy="232.2" r="3" fill="#00847E" stroke="#00635e"/>
<circle cx="663.6" cy="235.1" r="3" fill="#C15065" stroke="#903c4b"/>
<circle cx="666.2" cy="230.9" r="3" fill="#00847E" stroke="#00635e"/>
<circle cx="672.0" cy="227.0" r="3" fill="#00847E" stroke="#00635e"/>
<circle cx="673.4" cy="230.2" r="3" fill="#BC8E5A" stroke="#8d6a43"/>
<circle cx="675.0" cy="233.8" r="3" fill="#286BBB" stroke="#1e508c"/>
<circle cx="675.3" cy="224.7" r="3" fill="#286BBB" stroke="#1e508c"/>
<circle cx="678.2" cy="227.3" r="3" fill="#286BBB" stroke="#1e508c"/>
<circle cx="681.8" cy="227.6" r="3" fill="#00847E" stroke="#00635e"/>
<circle cx="680.2" cy="235.1" r="3" fill="#00847E" stroke="#00635e"/>
<circle cx="684.1" cy="216.9" r="3" fill="#C15065" stroke="#903c4b"/>
<circle cx="683.4" cy="220.2" r="3" fill="#38AABA" stroke="#2a7f8b"/>
<circle cx="679.9" cy="220.5" r="3" fill="#6E7581" stroke="#525760"/>
<circle cx="684.4" cy="223.1" r="3" fill="#6E7581" stroke="#525760"/>
<circle cx="687.0" cy="218.5" r="3" fill="#00847E" stroke="#00635e"/>
<circle cx="684.4" cy="234.4" r="3" fill="#8C4569" stroke="#69334e"/>
<circle cx="688.3" cy="234.4" r="3" fill="#8C4569" stroke="#69334e"/>
<circle cx="690.6" cy="227.6" r="3" fill="#00847E" stroke="#00635e"/>
<circle cx="696.8" cy="227.1" r="3" fill="#6E7581" stroke="#525760"/>
<circle cx="690.6" cy="220.0" r="3" fill="#B13507" stroke="#842705"/>
<circle cx="694.2" cy="218.8" r="3" fill="#8C4569" stroke="#69334e"/>
<circle cx="699.0" cy="219.6" r="3" fill="#8C4569" stroke="#69334e"/>
<circle cx="689.4" cy="214.0" r="3" fill="#8C4569" stroke="#69334e"/>
<circle cx="683.4" cy="246.8" r="3" fill="#00847E" stroke="#00635e"/>
<circle cx="688.0" cy="241.6" r="3" fill="#B13507" stroke="#842705"/>
</g>
<rect x="721.7" y="172.30" width="9.2" height="9.2" fill="#00847E" fill-opacity="0.8"/>
<text x="735.9" y="181.00" font-size="13" fill="#474747" textLength="40.6" lengthAdjust="spacingAndGlyphs" >Biology</text>
<rect x="721.7" y="189.92" width="9.2" height="9.2" fill="#00295B" fill-opacity="0.8"/>
<text x="735.9" y="198.62" font-size="13" fill="#474747" textLength="37.1" lengthAdjust="spacingAndGlyphs" >Games</text>
<rect x="721.7" y="207.54" width="9.2" height="9.2" fill="#C15065" fill-opacity="0.8"/>
<text x="735.9" y="216.24" font-size="13" fill="#474747" textLength="94.8" lengthAdjust="spacingAndGlyphs" >Image generation</text>
<rect x="721.7" y="225.16" width="9.2" height="9.2" fill="#38AABA" fill-opacity="0.8"/>
<text x="735.9" y="233.86" font-size="13" fill="#474747" textLength="51.6" lengthAdjust="spacingAndGlyphs" >Language</text>
<rect x="721.7" y="242.78" width="9.2" height="9.2" fill="#8C4569" fill-opacity="0.8"/>
<text x="735.9" y="251.48" font-size="13" fill="#474747" textLength="94.8" lengthAdjust="spacingAndGlyphs" >Multiple domains</text>
<rect x="721.7" y="260.40" width="9.2" height="9.2" fill="#6E7581" fill-opacity="0.8"/>
<text x="735.9" y="269.10" font-size="13" fill="#474747" textLength="32.1" lengthAdjust="spacingAndGlyphs" >Other</text>
<rect x="721.7" y="278.02" width="9.2" height="9.2" fill="#B13507" fill-opacity="0.8"/>
<text x="735.9" y="286.72" font-size="13" fill="#474747" textLength="47.3" lengthAdjust="spacingAndGlyphs" >Robotics</text>
<rect x="721.7" y="295.64" width="9.2" height="9.2" fill="#BC8E5A" fill-opacity="0.8"/>
<text x="735.9" y="304.34" font-size="13" fill="#474747" textLength="39.4" lengthAdjust="spacingAndGlyphs" >Speech</text>
<rect x="721.7" y="313.26" width="9.2" height="9.2" fill="#286BBB" fill-opacity="0.8"/>
<text x="735.9" y="321.96" font-size="13" fill="#474747" textLength="33.3" lengthAdjust="spacingAndGlyphs" >Vision</text>
<text x="16.5" y="544.9" font-size="13" fill="#858585" textLength="71.8" lengthAdjust="spacingAndGlyphs" font-weight="bold" >Data source:</text>
<text x="92.5" y="544.9" font-size="13" fill="#858585" textLength="90.8" lengthAdjust="spacingAndGlyphs" >Epoch AI (2025)</text>
<text x="834" y="544.9" font-size="13" fill="#858585" textLength="283" lengthAdjust="spacingAndGlyphs" text-anchor="end" >OurWorldinData.org/artificial-intelligence | CC BY</text>
<text x="16.5" y="565.1" font-size="13" fill="#858585" textLength="30.9" lengthAdjust="spacingAndGlyphs" font-weight="bold" >Note:</text>
<text x="51.4" y="565.1" font-size="13" fill="#858585" textLength="320.2" lengthAdjust="spacingAndGlyphs" >The Executive Order on AI refers to a directive issued by</text>
<text x="374.9" y="565.1" font-size="13" fill="#858585" textLength="422.6" lengthAdjust="spacingAndGlyphs" >President Biden on October 30, 2023, aimed at establishing guidelines and</text>
<text x="16.5" y="580.6" font-size="13" fill="#858585" textLength="268.5" lengthAdjust="spacingAndGlyphs" >standards for the responsible development and</text>
<text x="288.3" y="580.6" font-size="13" fill="#858585" textLength="293.2" lengthAdjust="spacingAndGlyphs" >use of artificial intelligence within the United States.</text>
</svg></body></html>
